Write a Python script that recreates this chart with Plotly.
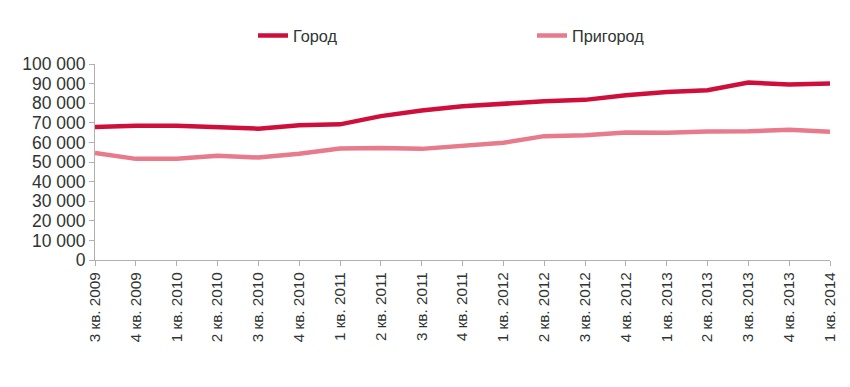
import plotly.graph_objects as go

quarters = ["3 кв. 2009", "4 кв. 2009", "1 кв. 2010", "2 кв. 2010", "3 кв. 2010",
            "4 кв. 2010", "1 кв. 2011", "2 кв. 2011", "3 кв. 2011", "4 кв. 2011",
            "1 кв. 2012", "2 кв. 2012", "3 кв. 2012", "4 кв. 2012", "1 кв. 2013",
            "2 кв. 2013", "3 кв. 2013", "4 кв. 2013", "1 кв. 2014"]
gorod = [67800, 68500, 68500, 68000, 67000, 68700, 69200, 73400, 76300, 78400,
         79900, 81000, 81700, 84000, 85700, 86600, 90500, 89500, 90100]
prigorod = [54600, 51600, 51600, 53200, 52300, 54200, 56900, 57200, 56700, 58100,
            59800, 63200, 63700, 65100, 64900, 65600, 65700, 66500, 65400]
y_ticks = [0, 10000, 20000, 30000, 40000, 50000, 60000, 70000, 80000, 90000, 100000]

fig = go.Figure()
fig.add_trace(go.Scatter(x=quarters, y=gorod, name="Город", mode="lines",
                         line=dict(color="#CF0F3B", width=4.5)))
fig.add_trace(go.Scatter(x=quarters, y=prigorod, name="Пригород", mode="lines",
                         line=dict(color="#E77A8B", width=4.5)))

fig.update_layout(
    width=850, height=387,
    margin=dict(l=87, r=28, t=56, b=135, autoexpand=False),
    paper_bgcolor="white", plot_bgcolor="white",
    font=dict(family="Liberation Sans, Arial, sans-serif", color="#2f3532", size=15),
    separators=". ",
    showlegend=True,
    legend=dict(orientation="h", xref="container", yref="container",
                x=245 / 850, xanchor="left", y=1 - 28 / 387, yanchor="middle",
                entrywidth=234, entrywidthmode="pixels",
                font=dict(size=16.3), tracegroupgap=0, bgcolor="rgba(0,0,0,0)"),
    xaxis=dict(type="category", range=[0, 18], showgrid=False, showline=True,
               linecolor="#b0b0b0", linewidth=1, ticks="outside", ticklen=5,
               tickcolor="#b0b0b0", tickangle=-90, tickfont=dict(size=15.3),
               zeroline=False, automargin=False),
    yaxis=dict(range=[0, 100000], tickvals=y_ticks, tickformat=",d",
               showgrid=False, showline=True, linecolor="#b0b0b0", linewidth=1,
               ticks="outside", ticklen=5, tickcolor="#b0b0b0",
               tickfont=dict(size=17.5), zeroline=False, automargin=False),
)

fig.write_html("out.html")
